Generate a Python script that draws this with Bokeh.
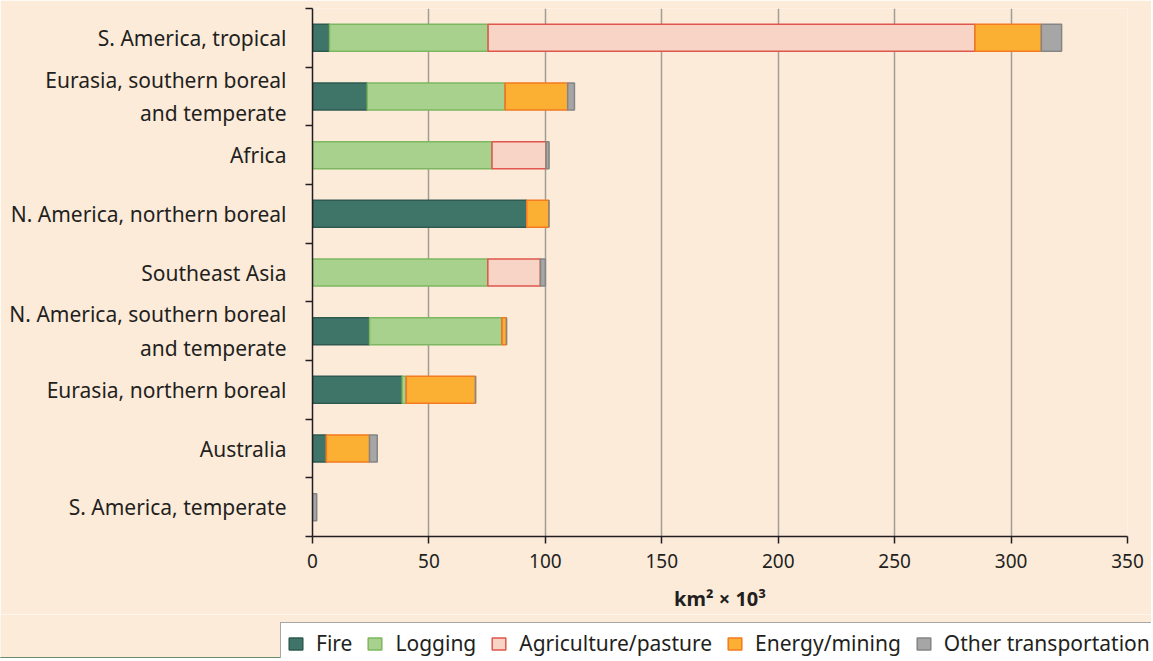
from bokeh.plotting import figure
from bokeh.models import Range1d, FixedTicker, Legend, LegendItem, ColumnDataSource
from bokeh.layouts import column
from bokeh.embed import file_html
from bokeh.resources import INLINE

# ---- data (km^2 x 10^3) ----
regions = [
    "S. America, tropical",
    "Eurasia, southern boreal\nand temperate",
    "Africa",
    "N. America, northern boreal",
    "Southeast Asia",
    "N. America, southern boreal\nand temperate",
    "Eurasia, northern boreal",
    "Australia",
    "S. America, temperate",
]
fire        = [7.3, 23.5, 0.0, 92.0, 0.0, 24.5, 38.5, 6.0, 0.0]
logging     = [68.1, 59.3, 77.1, 0.0, 75.3, 56.9, 1.8, 0.0, 0.0]
agriculture = [209.1, 0.0, 23.2, 0.0, 22.6, 0.0, 0.0, 0.0, 0.0]
energy      = [28.5, 26.8, 0.0, 9.5, 0.0, 1.9, 29.7, 18.5, 0.0]
other       = [8.7, 2.9, 1.3, 0.0, 2.1, 0.0, 0.0, 3.3, 1.8]

series = ["fire", "logging", "agriculture", "energy", "other"]
labels = ["Fire", "Logging", "Agriculture/pasture", "Energy/mining", "Other transportation"]
fills = ["#3f7468", "#a9d18e", "#f7d4c5", "#fbb034", "#a6a6a6"]
lines = ["#2f5a50", "#7db860", "#e0564c", "#f37a21", "#858585"]
x_ticks = [0, 50, 100, 150, 200, 250, 300, 350]

n = len(regions)
ypos = [n - 1 - i for i in range(n)]
src = ColumnDataSource(dict(y=ypos, fire=fire, logging=logging, agriculture=agriculture,
                            energy=energy, other=other))

BG = "#fdebda"
TXT = "#231f20"
FONT = "Noto Sans"

p = figure(frame_width=815, frame_height=528, output_backend="svg", toolbar_location=None,
           x_range=Range1d(0, 350), y_range=Range1d(-0.5, n - 0.5),
           min_border_left=312, min_border_right=24, min_border_top=8, min_border_bottom=0,
           background_fill_color=BG, border_fill_color=BG, outline_line_color=None)
p.frame_align = False

rs = p.hbar_stack(series, y="y", height=0.46, source=src,
                  fill_color=fills, line_color=lines, line_width=1.5)

# x axis
p.xaxis.ticker = FixedTicker(ticks=x_ticks)
p.xaxis.axis_label = "km² × 10³"
p.xaxis.axis_label_text_font = FONT
p.xaxis.axis_label_text_font_style = "bold"
p.xaxis.axis_label_text_font_size = "20px"
p.xaxis.axis_label_text_color = TXT
p.xaxis.axis_label_standoff = 14
p.xaxis.major_label_text_font = FONT
p.xaxis.major_label_text_font_size = "19px"
p.xaxis.major_label_text_color = TXT
p.xaxis.major_label_standoff = 10
p.xaxis.axis_line_color = TXT
p.xaxis.axis_line_width = 1.5
p.xaxis.major_tick_line_color = TXT
p.xaxis.major_tick_line_width = 1.5
p.xaxis.major_tick_out = 7
p.xaxis.major_tick_in = 0
p.xaxis.minor_tick_line_color = None

# y axis: labels at centers, ticks between categories (minor ticks)
p.yaxis.ticker = FixedTicker(ticks=ypos, minor_ticks=[i - 0.5 for i in range(n + 1)])
p.yaxis.major_label_overrides = {y: lab for y, lab in zip(ypos, regions)}
p.yaxis.major_label_text_font = FONT
p.yaxis.major_label_text_font_size = "21px"
p.yaxis.major_label_text_color = TXT
p.yaxis.major_label_standoff = 19
p.yaxis.major_tick_line_color = None
p.yaxis.major_tick_out = 0
p.yaxis.major_tick_in = 0
p.yaxis.minor_tick_line_color = TXT
p.yaxis.minor_tick_line_width = 1.5
p.yaxis.minor_tick_out = 7
p.yaxis.minor_tick_in = 0
p.yaxis.axis_line_color = TXT
p.yaxis.axis_line_width = 1.5

p.xgrid.grid_line_color = "#a39c94"
p.xgrid.grid_line_width = 1.5
p.ygrid.grid_line_color = None

# ---- legend strip (bars kept outside its visible range; only legend keys show) ----
lg = figure(width=1151, height=44, output_backend="svg", toolbar_location=None,
            x_range=Range1d(0, 1), y_range=Range1d(100, 101),
            min_border_left=0, min_border_right=0, min_border_top=0, min_border_bottom=0,
            background_fill_color=BG, border_fill_color=BG, outline_line_color=None)
lg.frame_align = False
lg.axis.visible = False
lg.grid.visible = False
keys = lg.hbar_stack(series, y="y", height=0.46, source=src,
                     fill_color=fills, line_color=lines, line_width=1.5)

legend = Legend(items=[LegendItem(label=l, renderers=[r]) for l, r in zip(labels, keys)],
                orientation="horizontal", location=(280, -6),
                background_fill_color="white", background_fill_alpha=1.0,
                border_line_color="#4d4d4d", border_line_width=1.5,
                label_text_font=FONT, label_text_font_size="21px", label_text_color=TXT,
                glyph_width=17, glyph_height=15, label_standoff=12, spacing=14,
                padding=6, margin=0, label_height=22)
lg.add_layout(legend, "center")

layout = column(p, lg, spacing=0)
open("out.html", "w").write(file_html(layout, INLINE))
